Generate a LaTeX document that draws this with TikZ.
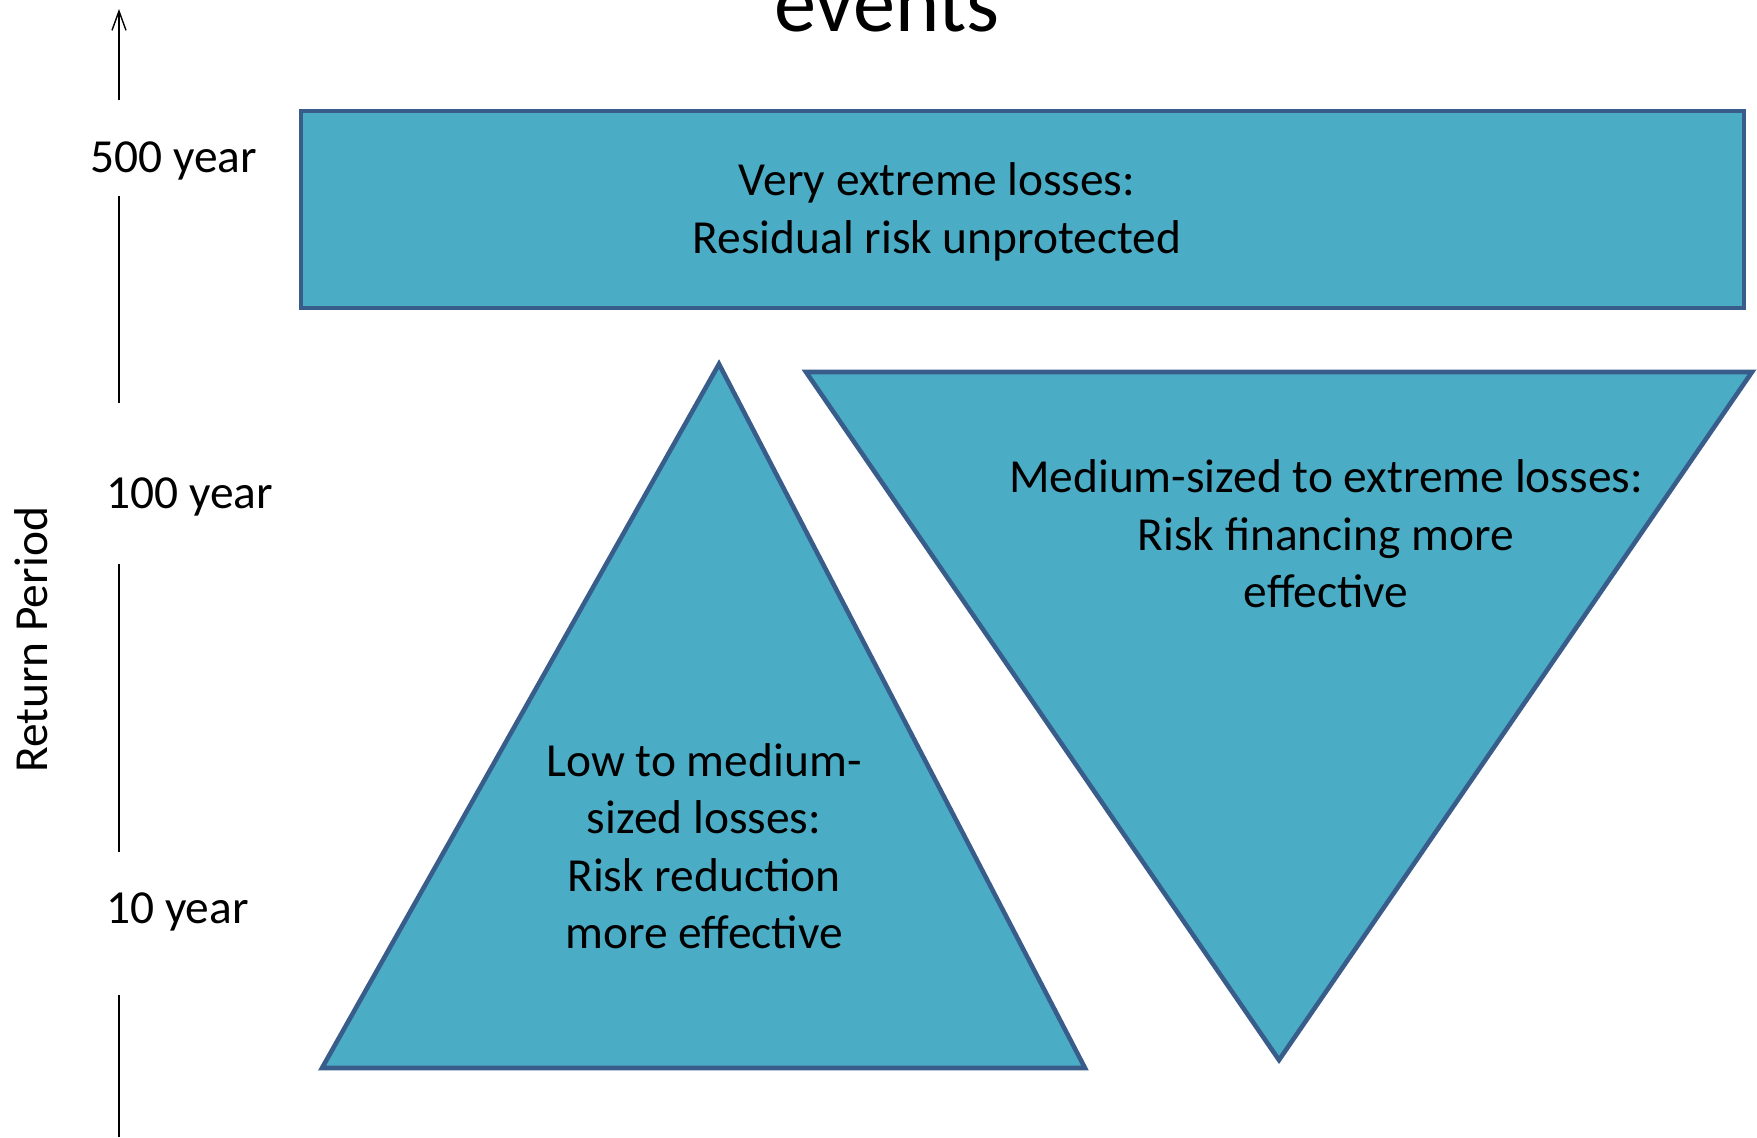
\documentclass[tikz,border=0pt]{standalone}
\usepackage{fontspec}
\setmainfont{Carlito}
\usetikzlibrary{arrows.meta}
\definecolor{aqua}{HTML}{4BACC6}
\definecolor{edgeblue}{HTML}{385D8A}
\begin{document}
\begin{tikzpicture}[x=0.02cm,y=-0.02cm,font=\fontsize{27}{32.7}\selectfont]
\clip (0,0) rectangle (1757,1137);
\tikzset{shapefill/.style={fill=aqua,draw=edgeblue,line width=2.6pt,line join=miter}}
\tikzset{axisline/.style={line width=0.8pt}}
\def\ax{119}
% shapes
\coordinate (R1) at (301,111);
\coordinate (R2) at (1744,308);
\coordinate (U1) at (322,1068);
\coordinate (U2) at (719,364);
\coordinate (U3) at (1085,1068);
\coordinate (D1) at (806,372);
\coordinate (D2) at (1752,372);
\coordinate (D3) at (1279,1060);
\draw[shapefill] (R1) rectangle (R2);
\draw[shapefill] (U1) -- (U2) -- (U3) -- cycle;
\draw[shapefill] (D1) -- (D2) -- (D3) -- cycle;
% texts
\node[font=\fontsize{48}{58}\selectfont,anchor=base] (title) at (887,31) {events};
\node[align=center] (top) at (937,212) {Very extreme losses:\\Residual risk unprotected};
\node[align=center] (low) at (704,846) {Low to medium-\\sized losses:\\Risk reduction\\more effective};
\node[align=center] (mid) at (1326,534) {Medium-sized to extreme losses:\\Risk financing more\\effective};
% axis
\node[anchor=west] (y500) at (84,161) {500 year};
\node[anchor=west] (y100) at (100,497) {100 year};
\node[anchor=west] (y10) at (100,912) {10 year};
\node[rotate=90] (rp) at (31,640) {Return Period};
\coordinate (a0) at (\ax,100);
\coordinate (a1) at (\ax,9);
\coordinate (a2) at (\ax,196);
\coordinate (a3) at (\ax,403);
\coordinate (a4) at (\ax,564);
\coordinate (a5) at (\ax,852);
\coordinate (a6) at (\ax,995);
\coordinate (a7) at (\ax,1137);
\draw[axisline,-{Straight Barb[length=11pt,width=8pt]}] (a0) -- (a1);
\draw[axisline] (a2) -- (a3);
\draw[axisline] (a4) -- (a5);
\draw[axisline] (a6) -- (a7);
\end{tikzpicture}
\end{document}
